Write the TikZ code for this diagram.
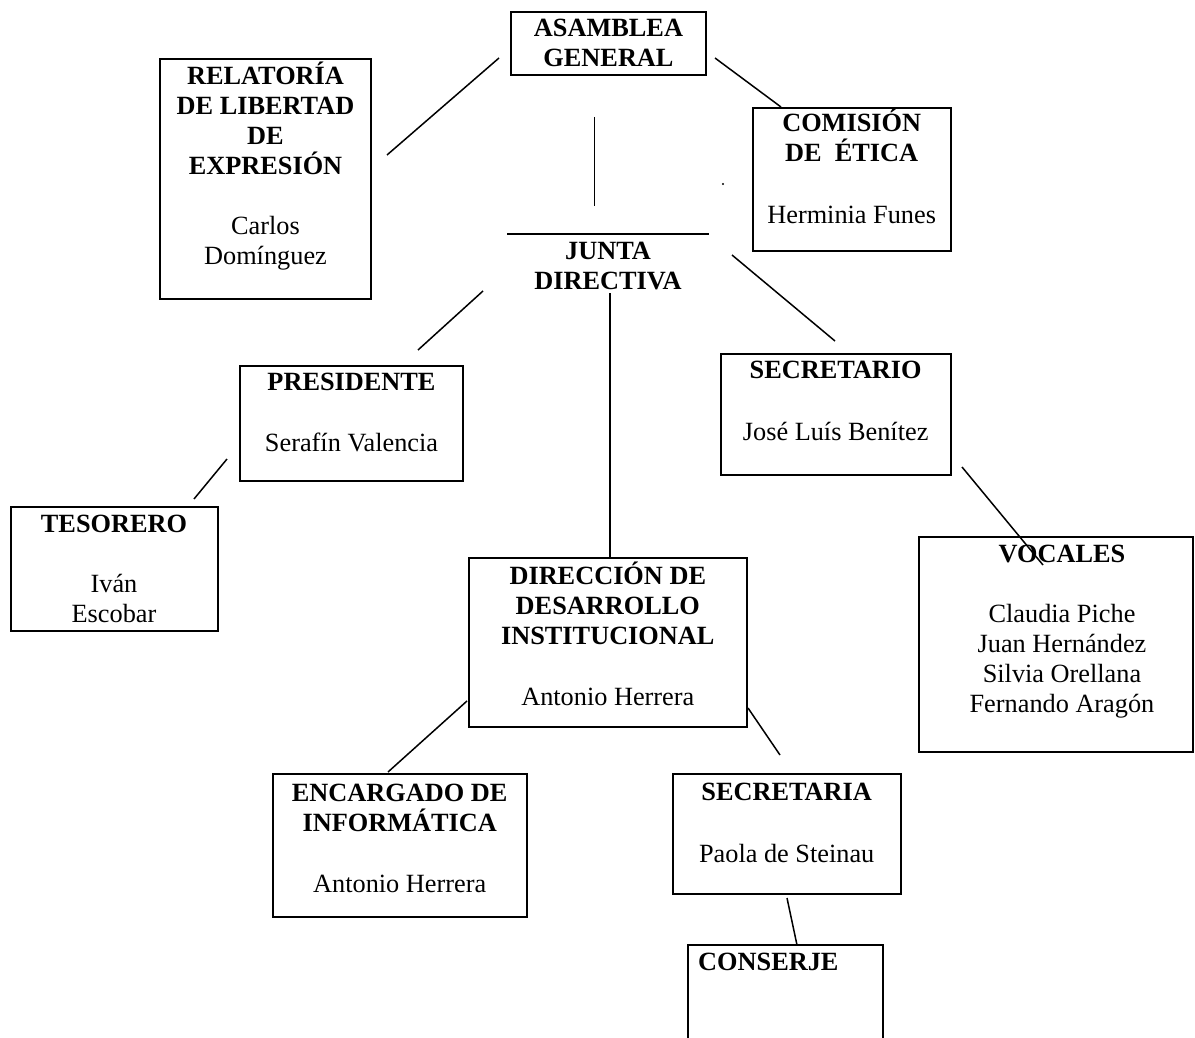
\documentclass[tikz,border=0pt]{standalone}
\usepackage{fontspec}
\setmainfont{Liberation Serif}
\newcommand{\boxtext}[1]{\parbox[t]{400pt}{\centering #1}}
\tikzset{
  box/.style={draw, line width=2pt, inner sep=0pt, outer sep=0pt, anchor=north west},
  lbl/.style={anchor=base, inner sep=0pt},
  conn/.style={line width=1.5pt},
}
\begin{document}
\begin{tikzpicture}[x=1pt,y=-1pt,font=\fontsize{26.3}{30}\selectfont]
\useasboundingbox (0,0) rectangle (1195,1038);

% boxes
\node[box, minimum width=195pt, minimum height=63pt] (asamblea) at (511,12) {};
\node[box, minimum width=211pt, minimum height=240pt] (relatoria) at (160,59) {};
\node[box, minimum width=198pt, minimum height=143pt] (comision) at (753,108) {};
\node[box, minimum width=223pt, minimum height=115pt] (presidente) at (240,366) {};
\node[box, minimum width=230pt, minimum height=121pt] (secretario) at (721,354) {};
\node[box, minimum width=207pt, minimum height=124pt] (tesorero) at (11,507) {};
\node[box, minimum width=278pt, minimum height=169pt] (direccion) at (469,558) {};
\node[box, minimum width=274pt, minimum height=215pt] (vocales) at (919,537) {};
\node[box, minimum width=254pt, minimum height=143pt] (encargado) at (273,774) {};
\node[box, minimum width=228pt, minimum height=120pt] (secretaria) at (673,774) {};
\node[box, minimum width=195pt, minimum height=140pt] (conserje) at (688,945) {};

% texts
\node[lbl] (asamblea-t) at (608.5,37) {\boxtext{\bfseries ASAMBLEA\\GENERAL}};
\node[lbl] (relatoria-t) at (265.5,85) {\boxtext{{\bfseries RELATORÍA\\DE LIBERTAD\\DE\\EXPRESIÓN}\\[30pt]Carlos\\Domínguez}};
\node[lbl] (comision-t) at (851.7,132) {\boxtext{{\bfseries COMISIÓN\\DE~~ÉTICA}\\[32pt]Herminia Funes}};
\node[lbl] (junta-t) at (608,259) {\boxtext{\bfseries JUNTA\\DIRECTIVA}};
\node[lbl] (presidente-t) at (351.5,390) {\boxtext{{\bfseries PRESIDENTE}\\[31pt]Serafín Valencia}};
\node[lbl] (secretario-t) at (835.7,378) {\boxtext{{\bfseries SECRETARIO}\\[32pt]José Luís Benítez}};
\node[lbl] (tesorero-t) at (114,532) {\boxtext{{\bfseries TESORERO}\\[30pt]Iván\\Escobar}};
\node[lbl] (direccion-t) at (607.8,584) {\boxtext{{\bfseries DIRECCIÓN DE\\DESARROLLO\\INSTITUCIONAL}\\[31pt]Antonio Herrera}};
\node[lbl] (vocales-t) at (1062,562) {\boxtext{{\bfseries VOCALES}\\[30pt]Claudia Piche\\Juan Hernández\\Silvia Orellana\\Fernando Aragón}};
\node[lbl] (encargado-t) at (399.7,801) {\boxtext{{\bfseries ENCARGADO DE\\INFORMÁTICA}\\[31pt]Antonio Herrera}};
\node[lbl] (secretaria-t) at (786.7,800) {\boxtext{{\bfseries SECRETARIA}\\[32pt]Paola de Steinau}};
\node[lbl, anchor=base west] (conserje-t) at (698,970) {\bfseries CONSERJE};

% connector end points
\coordinate (ag-rel) at (499,58);   \coordinate (rel-ag) at (387,155);
\coordinate (ag-com) at (715,58);   \coordinate (com-ag) at (781,107);
\coordinate (ag-jd)  at (594.5,117); \coordinate (jd-ag) at (594.5,206);
\coordinate (jd-l)   at (507,233.5); \coordinate (jd-r)  at (708.5,233.5);
\coordinate (jd-pre) at (483,291);  \coordinate (pre-jd) at (418,350);
\coordinate (jd-dir) at (610,293);  \coordinate (dir-jd) at (610,558);
\coordinate (jd-sec) at (732,255);  \coordinate (sec-jd) at (835,341);
\coordinate (pre-tes) at (227,459); \coordinate (tes-pre) at (194,499);
\coordinate (sec-voc) at (962,467); \coordinate (voc-sec) at (1043,565);
\coordinate (dir-enc) at (467,701); \coordinate (enc-dir) at (388,772);
\coordinate (dir-sria) at (748,708); \coordinate (sria-dir) at (780,755);
\coordinate (sria-con) at (787,898); \coordinate (con-sria) at (797,945);
\coordinate (dot) at (723,184);

% connectors
\draw[conn] (ag-rel) -- (rel-ag);
\draw[conn] (ag-com) -- (com-ag);
\draw[conn] (ag-jd) -- (jd-ag);
\draw[line width=2pt] (jd-l) -- (jd-r);
\draw[conn] (jd-pre) -- (pre-jd);
\draw[conn] (jd-dir) -- (dir-jd);
\draw[conn] (jd-sec) -- (sec-jd);
\draw[conn] (pre-tes) -- (tes-pre);
\draw[conn] (sec-voc) -- (voc-sec);
\draw[conn] (dir-enc) -- (enc-dir);
\draw[conn] (dir-sria) -- (sria-dir);
\draw[conn] (sria-con) -- (con-sria);
\fill (dot) circle (1.2pt);
\end{tikzpicture}
\end{document}
